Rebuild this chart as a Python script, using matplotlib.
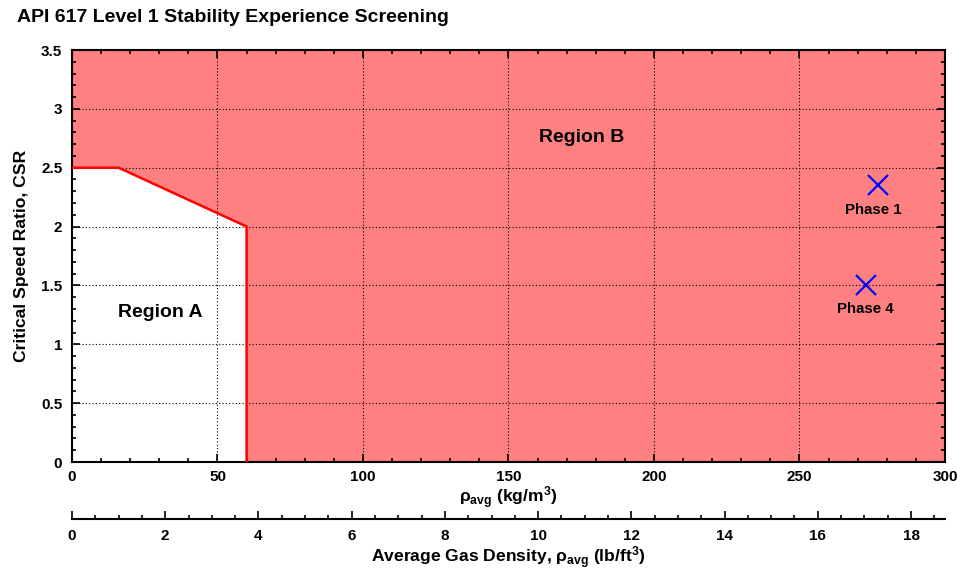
import matplotlib
matplotlib.use("Agg")
import matplotlib.pyplot as plt
from matplotlib.ticker import MultipleLocator

plt.rcParams['font.family'] = ['Liberation Sans', 'DejaVu Sans']
plt.rcParams['font.weight'] = 'bold'
plt.rcParams['mathtext.fontset'] = 'custom'
plt.rcParams['mathtext.rm'] = 'Liberation Sans:bold'
plt.rcParams['mathtext.it'] = 'Liberation Sans:bold'
plt.rcParams['mathtext.bf'] = 'Liberation Sans:bold'

# Region A boundary (kg/m^3, CSR)
boundary_x = [0, 16.02, 60, 60]
boundary_y = [2.5, 2.5, 2.0, 0]

# Data points
phase_names = ['Phase 1', 'Phase 4']
phase_rho = [277, 273]
phase_csr = [2.35, 1.5]

# Tick labels
x_ticks = [0, 50, 100, 150, 200, 250, 300]
y_ticks = [0, 0.5, 1, 1.5, 2, 2.5, 3, 3.5]
y_ticklabels = ['0', '0.5', '1', '1.5', '2', '2.5', '3', '3.5']
lb_ticks = [0, 2, 4, 6, 8, 10, 12, 14, 16, 18]

KG_PER_LB = 16.018

fig = plt.figure(figsize=(9.62, 5.74), dpi=100)
ax = fig.add_axes([72/962, 1-462/574, (945-72)/962, (462-50)/574])

ax.set_xlim(0, 300)
ax.set_ylim(0, 3.5)

ax.fill_between([0, 300], 0, 3.5, color='#FF8080', zorder=0, lw=0)
ax.fill_between(boundary_x[:3], 0, boundary_y[:3], color='white', zorder=0.5, lw=0)
ax.plot(boundary_x, boundary_y, color='#FF0000', lw=1.8, zorder=3)

ax.grid(True, which='major', color='black', linestyle=(0, (1, 2)), lw=0.8)
ax.set_axisbelow(False)

ax.xaxis.set_minor_locator(MultipleLocator(10))
ax.yaxis.set_minor_locator(MultipleLocator(0.1))
ax.tick_params(which='both', direction='in', top=True, right=True, labelsize=11, width=1.2)
ax.tick_params(which='major', length=6)
ax.tick_params(which='minor', length=3)
ax.tick_params(axis='x', pad=6)
ax.tick_params(axis='y', pad=7)
ax.set_xticks(x_ticks)
ax.set_xticklabels([str(v) for v in x_ticks])
ax.set_yticks(y_ticks)
ax.set_yticklabels(y_ticklabels)
for s in ax.spines.values():
    s.set_linewidth(1.5)

ax.plot(phase_rho, phase_csr, 'x', color='blue', ms=14, mew=1.6, zorder=4)
ax.text(phase_rho[0] - 1.5, phase_csr[0] - 0.21, phase_names[0], ha='center', va='center', fontsize=10.8, fontweight='bold')
ax.text(phase_rho[1] - 0.5, phase_csr[1] - 0.2, phase_names[1], ha='center', va='center', fontsize=10.8, fontweight='bold')

ax.text(30.2, 1.27, 'Region A', ha='center', va='center', fontsize=14, fontweight='bold')
ax.text(175.3, 2.76, 'Region B', ha='center', va='center', fontsize=14, fontweight='bold')

ax.set_ylabel('Critical Speed Ratio, CSR', fontsize=12.6, fontweight='bold', labelpad=9)
ax.set_xlabel(r'$\rho_{avg}$ (kg/m$^{3}$)', fontsize=12.6, fontweight='bold', labelpad=0)

sec = ax.secondary_xaxis(-(519-462)/412, functions=(lambda x: x / KG_PER_LB, lambda x: x * KG_PER_LB))
sec.set_xticks(lb_ticks)
sec.set_xticklabels([str(v) for v in lb_ticks])
sec.xaxis.set_minor_locator(MultipleLocator(0.5))
sec.tick_params(which='both', direction='in', labelsize=11, width=1.2, pad=7)
sec.tick_params(which='major', length=6)
sec.tick_params(which='minor', length=3)
sec.spines['bottom'].set_linewidth(1.5)
sec.set_xlabel(r'Average Gas Density, $\rho_{avg}$ (lb/ft$^{3}$)', fontsize=12.6, fontweight='bold', labelpad=1)

fig.text(17/962, 1-18/574, 'API 617 Level 1 Stability Experience Screening', fontsize=14, fontweight='bold', va='center', ha='left')

fig.savefig('out.png', dpi=100)
